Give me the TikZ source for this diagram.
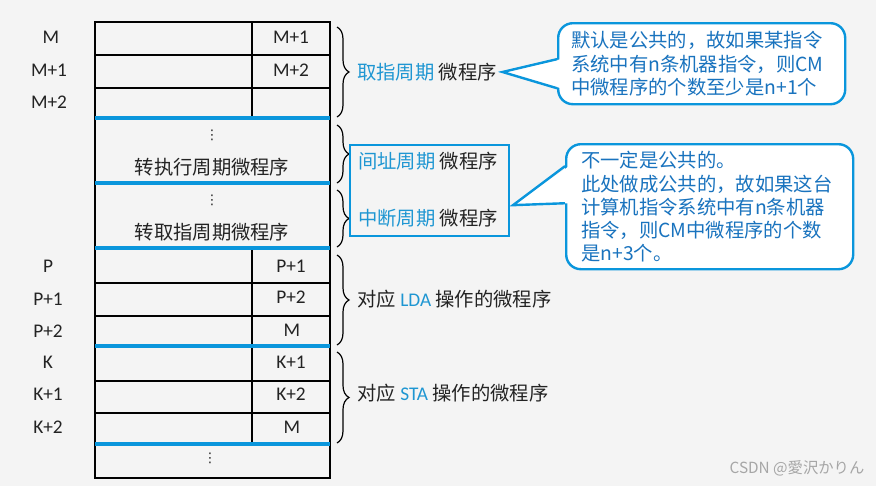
\documentclass[tikz,border=0pt]{standalone}
\usepackage{fontspec}
\setmainfont{Noto Sans CJK SC}
\newfontfamily\latinfont{Carlito}
\newfontfamily\jpfont{Noto Sans CJK JP}
\newfontfamily\symfont{DejaVu Sans}
\usepackage{xcolor}
\usetikzlibrary{positioning, decorations.pathreplacing}

\definecolor{lineblue}{RGB}{10,150,220}
\definecolor{labelblue}{RGB}{30,150,210}
\definecolor{noteblue}{RGB}{25,115,190}
\definecolor{bggray}{RGB}{244,244,244}
\definecolor{inkgray}{RGB}{35,35,35}

\begin{document}
\begin{tikzpicture}[x=0.75pt, y=-0.75pt,
  addr/.style={font=\latinfont\fontsize{14.5}{17}\selectfont, inner sep=0pt, text=inkgray},
  lbl/.style={font=\fontsize{14.5}{17}\selectfont, inner sep=0pt, anchor=west, text=inkgray},
  dots/.style={font=\symfont\fontsize{10}{11}\selectfont, inner sep=0pt, text=inkgray},
  brace/.style={decorate, decoration={brace, amplitude=9pt}, line width=0.9pt},
  sep/.style={lineblue, line width=3pt},
  note/.style={draw=lineblue, line width=1.8pt, rounded corners=11pt, fill=white,
    text=noteblue, align=left, anchor=north west, font=\fontsize{14.5}{17.3}\selectfont}]

\fill[bggray] (0,0) rectangle (876,486);
\useasboundingbox (0,0) rectangle (876,486);

% control memory table
\draw[line width=1.5pt] (95,22) rectangle (330,478);
\foreach \y in {55,88,283,316,381,413}
  \draw[line width=1.2pt] (95,\y) -- (330,\y);
\draw[line width=1.2pt] (252,22) -- (252,118);
\draw[line width=1.2pt] (252,248) -- (252,444);
\foreach \y in {118,183,248,346,444}
  \draw[sep] (95,\y) -- (330,\y);

% addresses
\node[addr] (m0) at (51,37) {M};
\node[addr] (m1) at (49,70) {M+1};
\node[addr] (m2) at (49,102) {M+2};
\node[addr] (p0) at (48,266) {P};
\node[addr] (p1) at (48,299) {P+1};
\node[addr] (p2) at (48,331) {P+2};
\node[addr] (k0) at (48,362) {K};
\node[addr] (k1) at (48,394) {K+1};
\node[addr] (k2) at (48,427) {K+2};

% next addresses
\node[addr] (nm0) at (291,37) {M+1};
\node[addr] (nm1) at (291,70) {M+2};
\node[addr] (np0) at (291,266) {P+1};
\node[addr] (np1) at (291,297) {P+2};
\node[addr] (np2) at (292,330) {M};
\node[addr] (nk0) at (291,362) {K+1};
\node[addr] (nk1) at (291,394) {K+2};
\node[addr] (nk2) at (292,427) {M};

\node[dots] (d1) at (212,135) {⋮};
\node[lbl, anchor=center] (zx) at (212,167) {转执行周期微程序};
\node[dots] (d2) at (212,200) {⋮};
\node[lbl, anchor=center] (zq) at (212,232) {转取指周期微程序};
\node[dots] (d3) at (210,458) {⋮};

% braces
\draw[brace] (337,27) -- (337,117);
\draw[brace] (337,125) -- (337,183);
\draw[brace] (337,190) -- (337,247);
\draw[brace] (337,255) -- (337,345);
\draw[brace] (337,352) -- (337,443);

\node[lbl] (qz) at (357,72) {\textcolor{labelblue}{取指周期} 微程序};
\node[draw=lineblue, line width=2pt, minimum width=119.25pt, minimum height=68.25pt] (cyc) at (429.5,190.5) {};
\node[lbl] (jz) at (358,161) {\textcolor{labelblue}{间址周期} 微程序};
\node[lbl] (zd) at (358,218) {\textcolor{labelblue}{中断周期} 微程序};
\node[lbl] (lda) at (357,299) {对应 \textcolor{labelblue}{\latinfont LDA} 操作的微程序};
\node[lbl] (sta) at (357,393) {对应 \textcolor{labelblue}{\latinfont STA} 操作的微程序};

% notes
\node[note, minimum width=215.25pt, minimum height=60.75pt, text width=195.75pt, inner xsep=9.75pt] (note1) at (557,22)
  {默认是公共的，故如果某指令\\系统中有n条机器指令，则CM\\中微程序的个数至少是n+1个};
\node[note, minimum width=215.25pt, minimum height=93.75pt, text width=192.75pt, inner xsep=11.25pt] (note2) at (565,143)
  {不一定是公共的。\\此处做成公共的，故如果这台\\计算机指令系统中有n条机器\\指令，则CM中微程序的个数\\是n+3个。};

\coordinate (t1) at ([xshift=4pt]qz.east);
\fill[white] (t1) -- ([xshift=3pt,yshift=3.4pt]note1.west) -- ([xshift=3pt,yshift=-18.4pt]note1.west) -- cycle;
\draw[lineblue, line width=1.8pt] ([yshift=3.4pt]note1.west) -- (t1) -- ([yshift=-18.4pt]note1.west);

\coordinate (t2) at ([xshift=2pt,yshift=-11pt]cyc.east);
\fill[white] (t2) -- ([xshift=3pt,yshift=30.4pt]note2.west) -- ([xshift=3pt,yshift=2.6pt]note2.west) -- cycle;
\draw[lineblue, line width=1.8pt] ([yshift=30.4pt]note2.west) -- (t2) -- ([yshift=2.6pt]note2.west);

\node[text=gray!70, font=\jpfont\fontsize{11.5}{13}\selectfont] (wm) at (797,468) {CSDN @愛沢かりん};

\end{tikzpicture}
\end{document}
